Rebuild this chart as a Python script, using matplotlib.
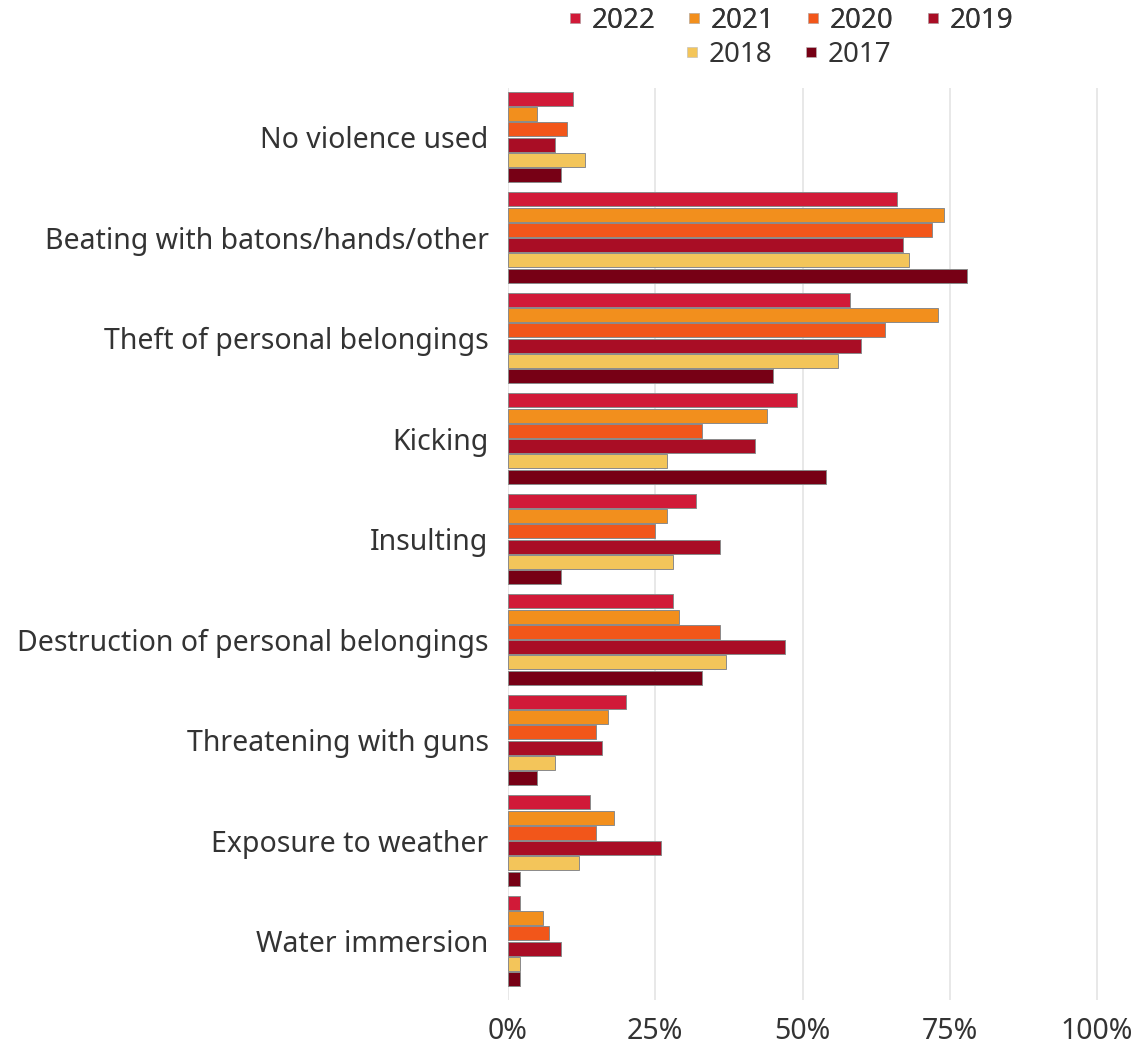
import numpy as np
import matplotlib
matplotlib.use("Agg")
import matplotlib.pyplot as plt
from matplotlib.lines import Line2D

# Data (percent of respondents)
categories = [
    "No violence used",
    "Beating with batons/hands/other",
    "Theft of personal belongings",
    "Kicking",
    "Insulting",
    "Destruction of personal belongings",
    "Threatening with guns",
    "Exposure to weather",
    "Water immersion",
]
years = ["2022", "2021", "2020", "2019", "2018", "2017"]
v2022 = [11, 66, 58, 49, 32, 28, 20, 14, 2]
v2021 = [5, 74, 73, 44, 27, 29, 17, 18, 6]
v2020 = [10, 72, 64, 33, 25, 36, 15, 15, 7]
v2019 = [8, 67, 60, 42, 36, 47, 16, 26, 9]
v2018 = [13, 68, 56, 27, 28, 37, 8, 12, 2]
v2017 = [9, 78, 45, 54, 9, 33, 5, 2, 2]
series = [v2022, v2021, v2020, v2019, v2018, v2017]
colors = ["#D11A38", "#F28F1D", "#F2561A", "#A90D25", "#F3C55A", "#770015"]

plt.rcParams['font.family'] = ['Noto Sans', 'DejaVu Sans']
text_color = "#333333"

fig = plt.figure(figsize=(11.39, 10.53), dpi=100)
ax = fig.add_axes([0.446, 0.0503, 0.5275, 0.8661])

y = np.arange(len(categories))
bar_h = 0.152
for j, (vals, col) in enumerate(zip(series, colors)):
    ax.barh(y + (j - 2.5) * bar_h, np.array(vals) / 100.0, height=bar_h * 0.92,
            color=col, edgecolor="#8a8a8a", linewidth=0.7, zorder=3)

ax.set_xlim(0, 1.02)
ax.set_ylim(8.587, -0.4876)
ax.set_xticks([0, 0.25, 0.5, 0.75, 1.0])
ax.set_xticklabels(["0%", "25%", "50%", "75%", "100%"])
ax.set_yticks(y)
ax.set_yticklabels(categories)
ax.tick_params(axis="both", length=0, colors=text_color, labelsize=20.5)
ax.tick_params(axis="x", pad=12)
ax.tick_params(axis="y", pad=14)
ax.grid(axis="x", color="#e6e6e6", linewidth=1.3, zorder=0)
for s in ax.spines.values():
    s.set_visible(False)

# Legend in two rows
def handle(c):
    return Line2D([], [], marker="s", linestyle="none", markersize=7,
                  markerfacecolor=c, markeredgecolor="#bbbbbb", markeredgewidth=0.4)

legend_kw = dict(loc="center", frameon=False, fontsize=20, handletextpad=0.1,
                 columnspacing=0.9, handlelength=1.0, labelcolor=text_color)
row1 = fig.legend([handle(c) for c in colors[:4]], years[:4], ncol=4,
                  bbox_to_anchor=(787 / 1139, 1 - 21 / 1053), **legend_kw)
row2 = fig.legend([handle(c) for c in colors[4:]], years[4:], ncol=2,
                  bbox_to_anchor=(785 / 1139, 1 - 55 / 1053), **legend_kw)
fig.add_artist(row1)

fig.savefig("out.png", dpi=100, facecolor="white")
